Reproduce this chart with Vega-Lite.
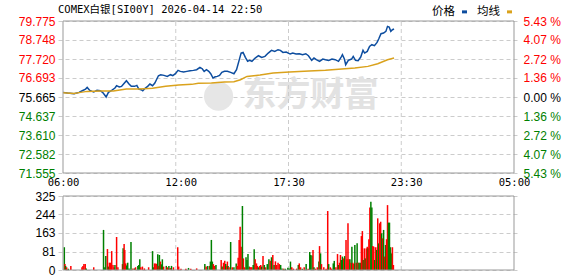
{
  "$schema": "https://vega.github.io/schema/vega-lite/v6.json",
  "width": 461,
  "height": 249,
  "autosize": {"type": "none"},
  "padding": {"left": 58, "top": 21, "right": 59, "bottom": 6},
  "background": "#ffffff",
  "config": {"view": {"stroke": null}, "font": "Liberation Sans"},
  "title": {"text": "COMEX白银[SI00Y] 2026-04-14 22:50", "anchor": "start", "frame": "group", "font": "DejaVu Sans Mono, Noto Sans CJK SC", "fontSize": 10.5, "fontWeight": "normal", "color": "#000000", "baseline": "alphabetic", "offset": -17.5},
  "datasets": {
    "line": [
      {"t":0,"p":75.915,"s":"价格"},{"t":14,"p":75.879,"s":"价格"},{"t":34,"p":75.843,"s":"价格"},{"t":49,"p":75.915,"s":"价格"},{"t":59,"p":76.005,"s":"价格"},{"t":69,"p":76.095,"s":"价格"},{"t":74,"p":76.185,"s":"价格"},{"t":82,"p":76.023,"s":"价格"},{"t":89,"p":75.969,"s":"价格"},{"t":94,"p":75.933,"s":"价格"},{"t":104,"p":76.023,"s":"价格"},{"t":114,"p":76.005,"s":"价格"},{"t":121,"p":75.915,"s":"价格"},{"t":127,"p":75.789,"s":"价格"},{"t":132,"p":75.663,"s":"价格"},{"t":139,"p":75.915,"s":"价格"},{"t":149,"p":76.023,"s":"价格"},{"t":159,"p":76.149,"s":"价格"},{"t":164,"p":76.276,"s":"价格"},{"t":172,"p":76.204,"s":"价格"},{"t":179,"p":76.24,"s":"价格"},{"t":186,"p":76.384,"s":"价格"},{"t":194,"p":76.546,"s":"价格"},{"t":202,"p":76.366,"s":"价格"},{"t":209,"p":76.24,"s":"价格"},{"t":219,"p":76.24,"s":"价格"},{"t":226,"p":76.294,"s":"价格"},{"t":232,"p":76.095,"s":"价格"},{"t":239,"p":76.059,"s":"价格"},{"t":244,"p":76.005,"s":"价格"},{"t":252,"p":76.149,"s":"价格"},{"t":259,"p":76.24,"s":"价格"},{"t":266,"p":76.366,"s":"价格"},{"t":274,"p":76.276,"s":"价格"},{"t":281,"p":76.42,"s":"价格"},{"t":286,"p":76.6,"s":"价格"},{"t":292,"p":76.816,"s":"价格"},{"t":299,"p":76.871,"s":"价格"},{"t":309,"p":76.834,"s":"价格"},{"t":319,"p":76.78,"s":"价格"},{"t":329,"p":76.871,"s":"价格"},{"t":336,"p":76.816,"s":"价格"},{"t":344,"p":76.925,"s":"价格"},{"t":352,"p":77.105,"s":"价格"},{"t":359,"p":77.051,"s":"价格"},{"t":369,"p":77.015,"s":"价格"},{"t":379,"p":77.051,"s":"价格"},{"t":389,"p":77.087,"s":"价格"},{"t":399,"p":77.105,"s":"价格"},{"t":409,"p":77.141,"s":"价格"},{"t":419,"p":77.267,"s":"价格"},{"t":426,"p":77.195,"s":"价格"},{"t":432,"p":77.051,"s":"价格"},{"t":439,"p":77.141,"s":"价格"},{"t":446,"p":77.051,"s":"价格"},{"t":452,"p":76.925,"s":"价格"},{"t":459,"p":76.69,"s":"价格"},{"t":464,"p":76.744,"s":"价格"},{"t":472,"p":76.78,"s":"价格"},{"t":479,"p":76.834,"s":"价格"},{"t":486,"p":76.997,"s":"价格"},{"t":494,"p":77.051,"s":"价格"},{"t":503,"p":77.051,"s":"价格"},{"t":513,"p":76.997,"s":"价格"},{"t":523,"p":76.925,"s":"价格"},{"t":531,"p":77.141,"s":"价格"},{"t":538,"p":77.592,"s":"价格"},{"t":545,"p":78.042,"s":"价格"},{"t":551,"p":78.078,"s":"价格"},{"t":558,"p":77.808,"s":"价格"},{"t":565,"p":77.592,"s":"价格"},{"t":571,"p":77.646,"s":"价格"},{"t":578,"p":77.592,"s":"价格"},{"t":588,"p":77.772,"s":"价格"},{"t":598,"p":77.898,"s":"价格"},{"t":608,"p":77.808,"s":"价格"},{"t":618,"p":77.862,"s":"价格"},{"t":628,"p":78.042,"s":"价格"},{"t":638,"p":78.187,"s":"价格"},{"t":648,"p":78.132,"s":"价格"},{"t":658,"p":78.223,"s":"价格"},{"t":665,"p":78.187,"s":"价格"},{"t":673,"p":78.078,"s":"价格"},{"t":683,"p":78.096,"s":"价格"},{"t":695,"p":77.988,"s":"价格"},{"t":703,"p":78.042,"s":"价格"},{"t":713,"p":77.988,"s":"价格"},{"t":723,"p":78.006,"s":"价格"},{"t":733,"p":77.952,"s":"价格"},{"t":743,"p":78.006,"s":"价格"},{"t":751,"p":77.898,"s":"价格"},{"t":761,"p":77.646,"s":"价格"},{"t":768,"p":77.772,"s":"价格"},{"t":775,"p":77.682,"s":"价格"},{"t":785,"p":77.592,"s":"价格"},{"t":795,"p":77.718,"s":"价格"},{"t":803,"p":77.682,"s":"价格"},{"t":813,"p":77.646,"s":"价格"},{"t":823,"p":77.718,"s":"价格"},{"t":833,"p":77.682,"s":"价格"},{"t":843,"p":77.592,"s":"价格"},{"t":851,"p":77.826,"s":"价格"},{"t":855,"p":77.952,"s":"价格"},{"t":861,"p":77.718,"s":"价格"},{"t":865,"p":77.411,"s":"价格"},{"t":873,"p":77.646,"s":"价格"},{"t":883,"p":77.718,"s":"价格"},{"t":888,"p":77.862,"s":"价格"},{"t":895,"p":77.646,"s":"价格"},{"t":903,"p":77.628,"s":"价格"},{"t":911,"p":77.826,"s":"价格"},{"t":918,"p":78.187,"s":"价格"},{"t":923,"p":78.042,"s":"价格"},{"t":931,"p":78.132,"s":"价格"},{"t":938,"p":78.403,"s":"价格"},{"t":945,"p":78.493,"s":"价格"},{"t":953,"p":78.439,"s":"价格"},{"t":961,"p":78.619,"s":"价格"},{"t":966,"p":78.799,"s":"价格"},{"t":973,"p":79.088,"s":"价格"},{"t":981,"p":79.124,"s":"价格"},{"t":988,"p":79.214,"s":"价格"},{"t":993,"p":79.484,"s":"价格"},{"t":998,"p":79.448,"s":"价格"},{"t":1003,"p":79.214,"s":"价格"},{"t":1008,"p":79.304,"s":"价格"},{"t":1013,"p":79.34,"s":"价格"},
      {"t":0,"p":75.9,"s":"均线"},{"t":34,"p":75.861,"s":"均线"},{"t":54,"p":75.915,"s":"均线"},{"t":74,"p":75.969,"s":"均线"},{"t":114,"p":75.987,"s":"均线"},{"t":154,"p":75.987,"s":"均线"},{"t":194,"p":76.095,"s":"均线"},{"t":234,"p":76.095,"s":"均线"},{"t":274,"p":76.132,"s":"均线"},{"t":314,"p":76.24,"s":"均线"},{"t":354,"p":76.312,"s":"均线"},{"t":394,"p":76.348,"s":"均线"},{"t":414,"p":76.402,"s":"均线"},{"t":454,"p":76.42,"s":"均线"},{"t":494,"p":76.474,"s":"均线"},{"t":523,"p":76.492,"s":"均线"},{"t":543,"p":76.6,"s":"均线"},{"t":563,"p":76.78,"s":"均线"},{"t":603,"p":76.852,"s":"均线"},{"t":643,"p":76.961,"s":"均线"},{"t":693,"p":77.015,"s":"均线"},{"t":753,"p":77.069,"s":"均线"},{"t":803,"p":77.105,"s":"均线"},{"t":853,"p":77.177,"s":"均线"},{"t":893,"p":77.231,"s":"均线"},{"t":933,"p":77.321,"s":"均线"},{"t":963,"p":77.465,"s":"均线"},{"t":993,"p":77.682,"s":"均线"},{"t":1013,"p":77.772,"s":"均线"}
    ],
    "vol": [
      {"t":4,"v":100,"d":"down"},{"t":6,"v":26,"d":"up"},{"t":8,"v":18,"d":"down"},{"t":11,"v":12,"d":"up"},{"t":16,"v":6,"d":"down"},{"t":24,"v":18,"d":"up"},{"t":58,"v":12,"d":"up"},{"t":61,"v":18,"d":"up"},{"t":64,"v":26,"d":"up"},{"t":68,"v":26,"d":"up"},{"t":71,"v":7,"d":"down"},{"t":94,"v":12,"d":"up"},{"t":124,"v":176,"d":"down"},{"t":128,"v":12,"d":"down"},{"t":131,"v":61,"d":"down"},{"t":136,"v":92,"d":"up"},{"t":139,"v":15,"d":"down"},{"t":142,"v":32,"d":"up"},{"t":145,"v":32,"d":"up"},{"t":149,"v":83,"d":"up"},{"t":153,"v":22,"d":"up"},{"t":156,"v":12,"d":"up"},{"t":159,"v":22,"d":"down"},{"t":164,"v":145,"d":"up"},{"t":168,"v":12,"d":"up"},{"t":182,"v":26,"d":"up"},{"t":184,"v":95,"d":"down"},{"t":187,"v":114,"d":"up"},{"t":189,"v":88,"d":"up"},{"t":192,"v":29,"d":"up"},{"t":195,"v":20,"d":"down"},{"t":198,"v":32,"d":"down"},{"t":202,"v":7,"d":"down"},{"t":208,"v":123,"d":"down"},{"t":214,"v":7,"d":"up"},{"t":219,"v":7,"d":"down"},{"t":222,"v":12,"d":"up"},{"t":229,"v":18,"d":"down"},{"t":232,"v":22,"d":"down"},{"t":235,"v":47,"d":"down"},{"t":238,"v":12,"d":"up"},{"t":243,"v":15,"d":"up"},{"t":249,"v":7,"d":"up"},{"t":262,"v":12,"d":"up"},{"t":274,"v":83,"d":"down"},{"t":277,"v":12,"d":"down"},{"t":280,"v":29,"d":"up"},{"t":284,"v":29,"d":"up"},{"t":287,"v":26,"d":"up"},{"t":290,"v":69,"d":"down"},{"t":292,"v":18,"d":"up"},{"t":295,"v":66,"d":"down"},{"t":298,"v":37,"d":"up"},{"t":301,"v":25,"d":"down"},{"t":304,"v":47,"d":"down"},{"t":308,"v":15,"d":"up"},{"t":316,"v":18,"d":"down"},{"t":319,"v":12,"d":"up"},{"t":324,"v":18,"d":"down"},{"t":328,"v":9,"d":"up"},{"t":332,"v":18,"d":"down"},{"t":338,"v":12,"d":"up"},{"t":351,"v":100,"d":"up"},{"t":354,"v":15,"d":"up"},{"t":361,"v":6,"d":"up"},{"t":376,"v":6,"d":"up"},{"t":384,"v":9,"d":"down"},{"t":391,"v":6,"d":"up"},{"t":409,"v":7,"d":"up"},{"t":434,"v":26,"d":"down"},{"t":438,"v":15,"d":"up"},{"t":443,"v":18,"d":"down"},{"t":449,"v":18,"d":"up"},{"t":451,"v":37,"d":"down"},{"t":454,"v":132,"d":"down"},{"t":457,"v":37,"d":"down"},{"t":460,"v":26,"d":"up"},{"t":464,"v":18,"d":"up"},{"t":468,"v":22,"d":"down"},{"t":484,"v":44,"d":"up"},{"t":487,"v":15,"d":"down"},{"t":491,"v":32,"d":"up"},{"t":495,"v":41,"d":"up"},{"t":498,"v":26,"d":"down"},{"t":501,"v":18,"d":"up"},
      {"t":503,"v":37,"d":"up"},{"t":505,"v":18,"d":"down"},{"t":508,"v":12,"d":"up"},{"t":513,"v":123,"d":"down"},{"t":518,"v":12,"d":"up"},{"t":523,"v":12,"d":"down"},{"t":530,"v":29,"d":"down"},{"t":533,"v":18,"d":"up"},{"t":536,"v":54,"d":"up"},{"t":539,"v":132,"d":"up"},{"t":542,"v":190,"d":"up"},{"t":545,"v":102,"d":"up"},{"t":549,"v":281,"d":"down"},{"t":552,"v":51,"d":"up"},{"t":556,"v":12,"d":"up"},{"t":560,"v":56,"d":"down"},{"t":563,"v":44,"d":"down"},{"t":566,"v":70,"d":"down"},{"t":570,"v":15,"d":"down"},{"t":572,"v":12,"d":"up"},{"t":575,"v":12,"d":"up"},{"t":578,"v":12,"d":"up"},{"t":582,"v":22,"d":"down"},{"t":585,"v":91,"d":"down"},{"t":588,"v":47,"d":"up"},{"t":592,"v":29,"d":"up"},{"t":595,"v":18,"d":"up"},{"t":598,"v":12,"d":"down"},{"t":602,"v":18,"d":"up"},{"t":605,"v":22,"d":"up"},{"t":608,"v":15,"d":"down"},{"t":612,"v":61,"d":"up"},{"t":616,"v":22,"d":"down"},{"t":620,"v":12,"d":"up"},{"t":625,"v":26,"d":"down"},{"t":630,"v":47,"d":"down"},{"t":634,"v":41,"d":"up"},{"t":638,"v":56,"d":"down"},{"t":642,"v":66,"d":"up"},{"t":646,"v":22,"d":"down"},{"t":650,"v":38,"d":"up"},{"t":654,"v":22,"d":"up"},{"t":658,"v":32,"d":"up"},{"t":662,"v":26,"d":"up"},{"t":666,"v":22,"d":"down"},{"t":670,"v":7,"d":"down"},{"t":675,"v":6,"d":"up"},{"t":680,"v":6,"d":"down"},{"t":688,"v":10,"d":"down"},{"t":692,"v":7,"d":"down"},{"t":696,"v":37,"d":"down"},{"t":700,"v":12,"d":"up"},{"t":705,"v":6,"d":"up"},{"t":715,"v":6,"d":"up"},{"t":720,"v":22,"d":"down"},{"t":723,"v":29,"d":"up"},{"t":727,"v":12,"d":"up"},{"t":732,"v":6,"d":"down"},{"t":738,"v":12,"d":"up"},{"t":744,"v":26,"d":"down"},{"t":750,"v":6,"d":"up"},{"t":755,"v":79,"d":"down"},{"t":758,"v":66,"d":"down"},{"t":762,"v":64,"d":"down"},{"t":765,"v":88,"d":"up"},{"t":768,"v":12,"d":"down"},{"t":772,"v":6,"d":"up"},{"t":778,"v":12,"d":"up"},{"t":783,"v":37,"d":"down"},{"t":785,"v":105,"d":"up"},{"t":788,"v":73,"d":"down"},{"t":791,"v":26,"d":"up"},{"t":798,"v":12,"d":"up"},{"t":805,"v":6,"d":"up"},{"t":810,"v":259,"d":"up"},{"t":813,"v":26,"d":"down"},{"t":818,"v":12,"d":"up"},{"t":822,"v":6,"d":"up"},{"t":827,"v":29,"d":"down"},{"t":830,"v":40,"d":"down"},{"t":835,"v":12,"d":"up"},{"t":840,"v":70,"d":"up"},{"t":843,"v":22,"d":"down"},{"t":846,"v":32,"d":"up"},{"t":849,"v":66,"d":"up"},{"t":852,"v":44,"d":"down"},{"t":855,"v":59,"d":"down"},{"t":859,"v":51,"d":"up"},{"t":862,"v":61,"d":"down"},{"t":866,"v":132,"d":"up"},{"t":869,"v":47,"d":"up"},{"t":872,"v":205,"d":"up"},{"t":875,"v":47,"d":"up"},{"t":878,"v":47,"d":"down"},{"t":881,"v":32,"d":"up"},{"t":884,"v":102,"d":"down"},{"t":887,"v":32,"d":"up"},{"t":890,"v":26,"d":"up"},{"t":893,"v":110,"d":"down"},{"t":897,"v":32,"d":"up"},{"t":900,"v":117,"d":"down"},{"t":903,"v":32,"d":"up"},{"t":906,"v":32,"d":"down"},{"t":910,"v":32,"d":"down"},{"t":913,"v":149,"d":"up"},{"t":916,"v":171,"d":"up"},{"t":919,"v":44,"d":"down"},{"t":922,"v":95,"d":"up"},{"t":925,"v":51,"d":"down"},{"t":928,"v":95,"d":"up"},{"t":931,"v":102,"d":"up"},{"t":934,"v":95,"d":"down"},{"t":936,"v":135,"d":"up"},{"t":939,"v":274,"d":"up"},{"t":942,"v":300,"d":"down"},{"t":945,"v":275,"d":"down"},{"t":948,"v":105,"d":"up"},{"t":951,"v":102,"d":"up"},{"t":954,"v":44,"d":"down"},{"t":957,"v":100,"d":"up"},{"t":960,"v":88,"d":"down"},{"t":963,"v":227,"d":"up"},{"t":966,"v":117,"d":"down"},{"t":969,"v":205,"d":"up"},{"t":972,"v":212,"d":"up"},{"t":975,"v":161,"d":"down"},{"t":978,"v":139,"d":"up"},{"t":981,"v":176,"d":"down"},{"t":984,"v":59,"d":"up"},{"t":987,"v":110,"d":"down"},{"t":990,"v":135,"d":"up"},{"t":993,"v":285,"d":"up"},{"t":996,"v":208,"d":"down"},{"t":999,"v":208,"d":"down"},{"t":1002,"v":100,"d":"down"},{"t":1005,"v":73,"d":"down"},{"t":1008,"v":100,"d":"up"},{"t":1011,"v":22,"d":"up"}
    ],
    "vgrid": [{"t":345},{"t":690},{"t":1035}],
    "pframe": [{"t":0,"t2":1380,"lo":71.555,"hi":79.775}],
    "vframe": [{"t":0,"t2":1380,"lo":0,"hi":325}],
    "mark": [{"t":757,"p":75.708,"label":"东方财富","lt":476}]
  },
  "encoding": {
    "x": {"field": "t", "type": "quantitative", "scale": {"domain": [0, 1380], "nice": false, "zero": false},
      "axis": {"orient": "bottom", "offset": -97, "values": [0, 360, 690, 1050, 1380], "labelExpr": "datum.value==0?'06:00':datum.value==360?'12:00':datum.value==690?'17:30':datum.value==1050?'23:30':'05:00'", "labelFlush": true, "labelOverlap": false, "grid": false, "ticks": false, "domain": false, "title": null, "labelFont": "DejaVu Sans Mono", "labelFontSize": 10.5, "labelColor": "#000000", "labelPadding": 4}}
  },
  "layer": [
    {
      "data": {"name": "mark"},
      "mark": {"type": "text", "font": "Noto Sans CJK SC", "fontSize": 34, "fontWeight": "bold", "color": "#e2e2e2"},
      "encoding": {
        "text": {"field": "label"},
        "y": {"field": "p", "type": "quantitative", "scale": {"domain": [71.555, 79.775], "range": [152, 0], "nice": false, "zero": false}, "axis": null}
      }
    },
    {
      "data": {"name": "mark"},
      "mark": {"type": "point", "shape": "circle", "filled": true, "size": 850, "color": "#e6e6e6", "opacity": 1},
      "encoding": {
        "x": {"field": "lt", "type": "quantitative", "scale": {"domain": [0, 1380], "nice": false, "zero": false},
          "axis": {"orient": "bottom", "offset": -97, "values": [0, 360, 690, 1050, 1380], "labelExpr": "datum.value==0?'06:00':datum.value==360?'12:00':datum.value==690?'17:30':datum.value==1050?'23:30':'05:00'", "labelFlush": true, "labelOverlap": false, "grid": false, "ticks": false, "domain": false, "title": null, "labelFont": "DejaVu Sans Mono", "labelFontSize": 10.5, "labelColor": "#000000", "labelPadding": 4}},
        "y": {"field": "p", "type": "quantitative", "scale": {"domain": [71.555, 79.775], "range": [152, 0], "nice": false, "zero": false}, "axis": null}
      }
    },
    {
      "data": {"name": "vgrid"},
      "mark": {"type": "rule", "color": "#cccccc", "strokeDash": [4, 3], "strokeWidth": 1},
      "encoding": {
        "y": {"datum": 71.555, "type": "quantitative", "scale": {"domain": [71.555, 79.775], "range": [152, 0], "nice": false, "zero": false}, "axis": null},
        "y2": {"datum": 79.775}
      }
    },
    {
      "data": {"name": "vgrid"},
      "mark": {"type": "rule", "color": "#cccccc", "strokeDash": [4, 3], "strokeWidth": 1},
      "encoding": {
        "y": {"datum": 0, "type": "quantitative", "scale": {"domain": [0, 325], "range": [249, 175], "nice": false}, "axis": null},
        "y2": {"datum": 325}
      }
    },
    {
      "data": {"name": "vol"},
      "mark": {"type": "bar", "width": 1.5},
      "encoding": {
        "y": {"field": "v", "type": "quantitative", "scale": {"domain": [0, 325], "range": [249, 175], "nice": false},
          "axis": {"orient": "left", "values": [0, 81, 163, 244, 325], "grid": true, "gridColor": "#cccccc", "gridDash": [4, 3], "ticks": false, "domain": false, "title": null, "labelFontSize": 12, "labelColor": "#000000", "labelPadding": 3, "labelOverlap": false}},
        "fill": {"field": "d", "type": "nominal", "scale": {"domain": ["up", "down"], "range": ["#ff0000", "#008000"]}, "legend": null}
      }
    },
    {
      "data": {"name": "line"},
      "mark": {"type": "line", "strokeWidth": 1.5},
      "encoding": {
        "y": {"field": "p", "type": "quantitative", "scale": {"domain": [71.555, 79.775], "range": [152, 0], "nice": false, "zero": false},
          "axis": {"orient": "left", "values": [71.555, 72.582, 73.61, 74.637, 75.665, 76.693, 77.72, 78.748, 79.775], "format": ".3f", "grid": true, "gridColor": "#cccccc", "gridDash": [4, 3], "ticks": false, "domain": false, "title": null, "labelFontSize": 12, "labelPadding": 3, "labelOverlap": false,
            "labelColor": {"condition": [{"test": "datum.value > 75.666", "value": "#ff0000"}, {"test": "datum.value < 75.664", "value": "#008000"}], "value": "#000000"}}},
        "color": {"field": "s", "type": "nominal", "scale": {"domain": ["价格", "均线"], "range": ["#0d4d9f", "#daa21c"]},
          "legend": {"orient": "none", "legendX": 374, "legendY": -15, "direction": "horizontal", "title": null, "labelFont": "Noto Sans CJK SC", "labelFontSize": 11.5, "labelColor": "#000000", "symbolType": "M-1,0H1", "symbolSize": 25, "symbolStrokeWidth": 3, "columnPadding": 4, "padding": 0,
            "encoding": {"symbols": {"x": {"value": 32.5}}, "labels": {"x": {"value": 0}}}}}
      }
    },
    {
      "data": {"name": "pframe"},
      "mark": {"type": "rect", "fillOpacity": 0, "stroke": "#999999", "strokeWidth": 1},
      "encoding": {
        "x2": {"field": "t2"},
        "y": {"field": "lo", "type": "quantitative", "scale": {"domain": [71.555, 79.775], "range": [152, 0], "nice": false, "zero": false},
          "axis": {"orient": "right", "values": [71.555, 72.582, 73.61, 74.637, 75.665, 76.693, 77.72, 78.748, 79.775], "labelExpr": "format(abs(datum.value-75.665)/75.665*100, '.2f') + ' %'", "grid": false, "ticks": false, "domain": false, "title": null, "labelFontSize": 12, "labelPadding": 4, "labelOverlap": false,
            "labelColor": {"condition": [{"test": "datum.value > 75.666", "value": "#ff0000"}, {"test": "datum.value < 75.664", "value": "#008000"}], "value": "#000000"}}},
        "y2": {"field": "hi"}
      }
    },
    {
      "data": {"name": "vframe"},
      "mark": {"type": "rect", "fillOpacity": 0, "stroke": "#999999", "strokeWidth": 1},
      "encoding": {
        "x2": {"field": "t2"},
        "y": {"field": "lo", "type": "quantitative", "scale": {"domain": [0, 325], "range": [249, 175], "nice": false}, "axis": null},
        "y2": {"field": "hi"}
      }
    }
  ],
  "resolve": {"scale": {"y": "independent"}}
}
